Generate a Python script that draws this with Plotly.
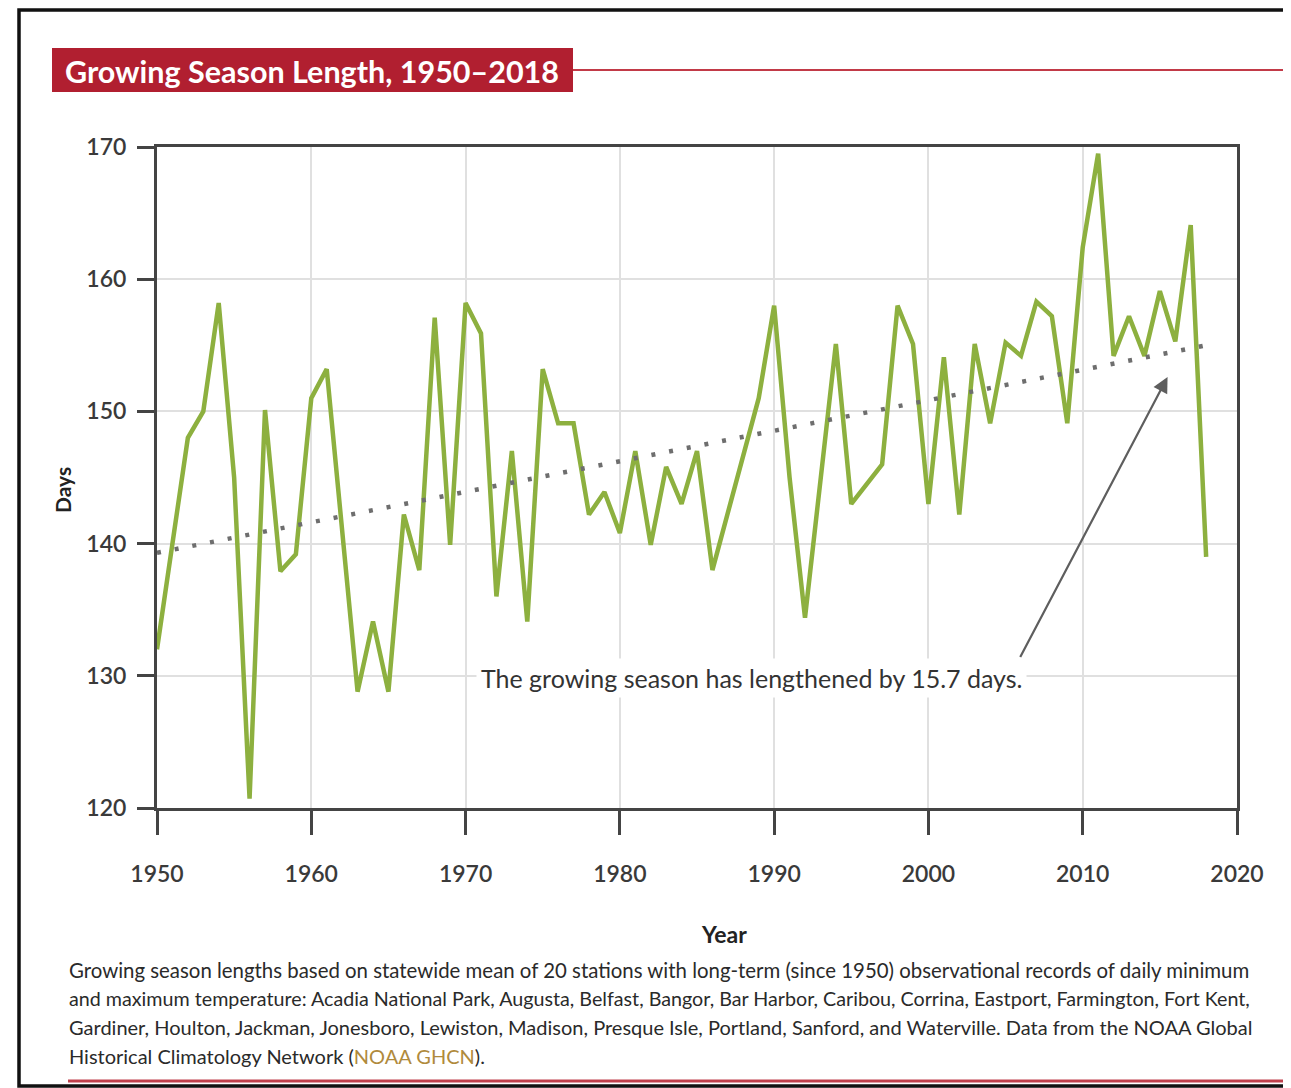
import plotly.graph_objects as go

# ---------------- data ----------------
years = list(range(1950, 2019))
days = [132, 140, 148, 150, 158.2, 145, 120.7, 150.1, 137.9, 139.2,
        151, 153.2, 141, 128.8, 134.1, 128.8, 142.2, 138, 157.1, 139.9,
        158.2, 155.9, 136, 147, 134.1, 153.2, 149.1, 149.1, 142.2, 143.9,
        140.8, 147, 139.9, 145.8, 143, 147, 138, 142.3, 146.7, 151,
        158, 145, 134.4, 144.5, 155.1, 143, 144.5, 146, 158, 155.1,
        143, 154.1, 142.2, 155.1, 149.1, 155.2, 154.2, 158.3, 157.2, 149.1,
        162.4, 169.5, 154.2, 157.2, 154.2, 159.1, 155.3, 164.1, 139]
trend_years = [1950, 2018]
trend_days = [139.3, 155.0]
x_ticks = [1950, 1960, 1970, 1980, 1990, 2000, 2010, 2020]
y_ticks = [120, 130, 140, 150, 160, 170]

title_text = "Growing Season Length, 1950–2018"
note_text = "The growing season has lengthened by 15.7 days."
caption_lines = [
    "Growing season lengths based on statewide mean of 20 stations with long-term (since 1950) observational records of daily minimum",
    "and maximum temperature: Acadia National Park, Augusta, Belfast, Bangor, Bar Harbor, Caribou, Corrina, Eastport, Farmington, Fort Kent,",
    "Gardiner, Houlton, Jackman, Jonesboro, Lewiston, Madison, Presque Isle, Portland, Sanford, and Waterville. Data from the NOAA Global",
    "Historical Climatology Network (<span style='color:#b08a3c'>NOAA GHCN</span>).",
]
caption_sizes = [20.4, 19.7, 20.0, 20.0]

# ---------------- layout helpers ----------------
OFF = 8  # page body margin
W, H = 1291 - OFF, 1088 - OFF
L, R, T, B = 157, 1237, 147, 808  # plot area in screen pixels


def px(x):
    return (x - L) / (R - L)


def py(y):
    return (B - y) / (B - T)


FONT = "Lato, 'Open Sans', 'DejaVu Sans', sans-serif"
RED = "#b11f30"

fig = go.Figure()
fig.add_trace(go.Scatter(
    x=years, y=days, mode="lines",
    line=dict(color="#8db03f", width=4.5),
    showlegend=False, hoverinfo="x+y"))
fig.add_trace(go.Scatter(
    x=trend_years, y=trend_days, mode="lines",
    line=dict(color="#6e6e6e", width=4.5, dash="4px,14px"),
    showlegend=False, hoverinfo="skip"))

axis_common = dict(
    showgrid=True, gridcolor="#e0e0e0", gridwidth=1.5,
    showline=True, linecolor="#444444", linewidth=3, mirror=True,
    ticks="outside", tickcolor="#444444", tickwidth=2.5,
    tickfont=dict(family=FONT, size=23, color="#3a3a3a", weight=600),
    zeroline=False,
)

fig.update_xaxes(range=[1950, 2020], tickvals=x_ticks, ticklen=24,
                 ticklabelstandoff=19, **axis_common)
fig.update_yaxes(range=[120, 170], tickvals=y_ticks, ticklen=17,
                 ticklabelstandoff=6, **axis_common)

shapes = [
    # outer frame
    dict(type="rect", xref="paper", yref="paper",
         x0=px(19), x1=px(1320), y0=py(1086), y1=py(10),
         line=dict(color="#111111", width=3.5), fillcolor="rgba(0,0,0,0)"),
    # title bar
    dict(type="rect", xref="paper", yref="paper",
         x0=px(52), x1=px(573), y0=py(92), y1=py(48),
         line=dict(width=0), fillcolor=RED),
    dict(type="line", xref="paper", yref="paper",
         x0=px(573), x1=px(1295), y0=py(70), y1=py(70),
         line=dict(color="#c23a48", width=2)),
    # bottom rule
    dict(type="line", xref="paper", yref="paper",
         x0=px(68), x1=px(1295), y0=py(1081), y1=py(1081),
         line=dict(color="#c0404c", width=3)),
]

annotations = [
    dict(text=title_text, xref="paper", yref="paper",
         x=px(63), y=py(71), xanchor="left", yanchor="middle",
         showarrow=False,
         font=dict(family=FONT, size=30.5, color="white", weight="bold")),
    dict(text="Days", xref="paper", yref="paper",
         x=px(62), y=py(490), xanchor="center", yanchor="middle",
         textangle=-90, showarrow=False,
         font=dict(family=FONT, size=21, color="#222222", weight="bold")),
    dict(text="Year", xref="paper", yref="paper",
         x=px(724), y=py(934), xanchor="center", yanchor="middle",
         showarrow=False,
         font=dict(family=FONT, size=23, color="#222222", weight="bold")),
    # arrow
    dict(x=2015.5, y=152.6, ax=2005.9, ay=131.3,
         xref="x", yref="y", axref="x", ayref="y",
         text="", showarrow=True, arrowhead=2, arrowsize=1.4,
         arrowwidth=2.2, arrowcolor="#5e5e5e"),
    # note
    dict(text=note_text, x=1988.5, y=129.8, xref="x", yref="y",
         xanchor="center", yanchor="middle", showarrow=False,
         bgcolor="white", borderpad=4,
         font=dict(family=FONT, size=25, color="#333333")),
]

for i, line in enumerate(caption_lines):
    annotations.append(dict(
        text=line, xref="paper", yref="paper",
        x=px(67), y=py(970 + i * 28.5), xanchor="left", yanchor="middle",
        showarrow=False,
        font=dict(family=FONT, size=caption_sizes[i], color="#2a2a2a")))

fig.update_layout(
    width=W, height=H,
    margin=dict(l=L - OFF, r=W - (R - OFF), t=T - OFF, b=H - (B - OFF), pad=0),
    paper_bgcolor="white", plot_bgcolor="white",
    shapes=shapes, annotations=annotations,
    showlegend=False,
)

fig.write_html("out.html")
